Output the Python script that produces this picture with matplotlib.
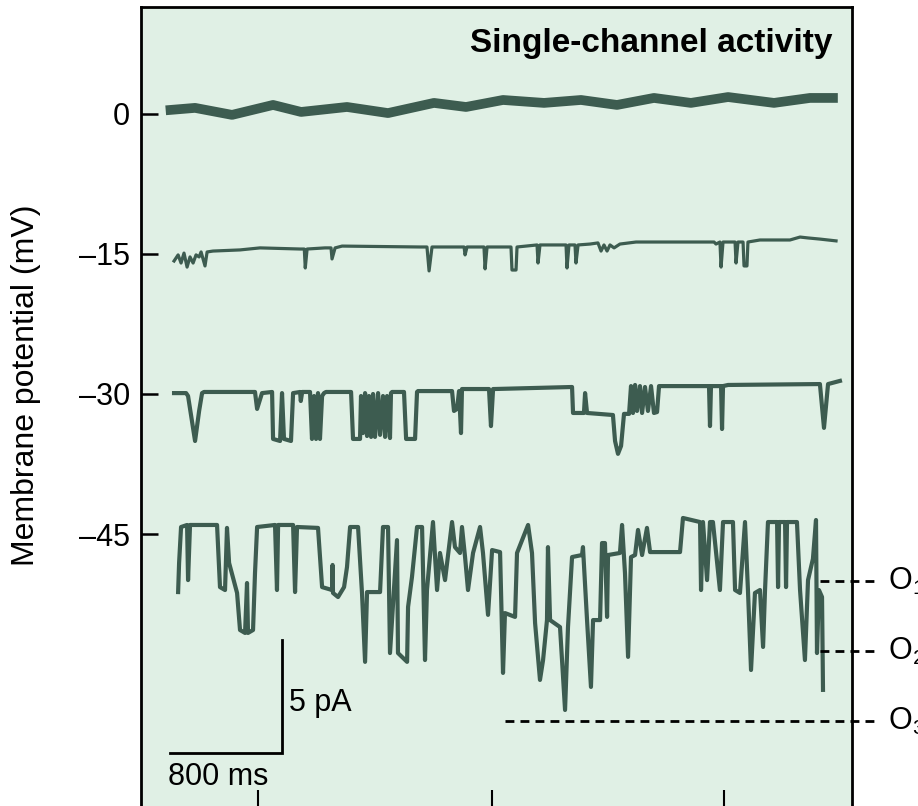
import numpy as np
import matplotlib.pyplot as plt

plt.rcParams['font.family'] = ['Liberation Sans', 'DejaVu Sans']
plt.rcParams['mathtext.fontset'] = 'custom'
plt.rcParams['mathtext.rm'] = 'Liberation Sans'
plt.rcParams['mathtext.it'] = 'Liberation Sans:italic'

# Holding potentials (mV) and their tick labels
holding = [0, -15, -30, -45]
tick_labels = ['0', '–15', '–30', '–45']

# Recordings: time (ms) and current (pA, inward = negative)
t_0mV = [-25, 150, 414, 707, 907, 1235, 1528, 1856, 2085, 2349, 2642, 2906,
         3163, 3427, 3691, 3956, 4284, 4541, 4705]
i_0mV = [0.18, 0.27, -0.04, 0.40, 0.09, 0.31, 0.04, 0.49, 0.31, 0.62, 0.49, 0.62,
         0.40, 0.71, 0.49, 0.75, 0.49, 0.71, 0.71]

t_15 = [0, 29, 50, 71, 93, 114, 136, 157, 179, 193, 221, 236, 278, 471, 614, 900,
        930, 937, 950, 1078, 1121, 1128, 1150, 1200, 1756, 1806, 1821, 1842, 2071,
        2078, 2092, 2213, 2221, 2235, 2406, 2413, 2442, 2449, 2592, 2599, 2613,
        2799, 2806, 2820, 2863, 2870, 2885, 2970, 3027, 3049, 3070, 3092, 3113,
        3142, 3184, 3299, 3856, 3870, 3898, 3906, 3920, 4006, 4013, 4027, 4063,
        4070, 4091, 4098, 4184, 4348, 4398, 4470, 4527, 4612, 4727]
i_15 = [-0.31, -0.04, -0.40, 0.04, -0.58, -0.13, -0.40, -0.04, -0.13, 0.09, -0.53,
        0.09, 0.13, 0.18, 0.27, 0.22, 0.22, -0.62, 0.22, 0.27, 0.27, -0.22, 0.27,
        0.35, 0.31, 0.31, -0.75, 0.31, 0.31, -0.04, 0.31, 0.31, -0.66, 0.31, 0.31,
        -0.71, -0.71, 0.31, 0.40, -0.40, 0.40, 0.40, -0.62, 0.40, 0.40, -0.40, 0.40,
        0.44, 0.49, 0.13, 0.40, 0.13, 0.40, 0.27, 0.44, 0.53, 0.53, 0.44, 0.53,
        -0.58, 0.53, 0.53, -0.40, 0.53, 0.53, -0.53, -0.53, 0.53, 0.62, 0.62, 0.62,
        0.75, 0.71, 0.66, 0.58]

t_30 = [0, 86, 100, 150, 179, 200, 214, 578, 593, 628, 700, 707, 757, 771, 785,
        835, 850, 900, 905, 915, 971, 985, 1000, 1014, 1028, 1042, 1057, 1071, 1085,
        1264, 1278, 1328, 1335, 1349, 1364, 1378, 1392, 1407, 1421, 1435, 1457,
        1471, 1492, 1507, 1521, 1542, 1549, 1557, 1642, 1657, 1721, 1735, 1742,
        1985, 1999, 2021, 2035, 2049, 2056, 2249, 2263, 2278, 2285, 2842, 2849,
        2927, 2935, 2949, 3134, 3149, 3170, 3192, 3213, 3249, 3263, 3277, 3292,
        3306, 3327, 3342, 3363, 3384, 3406, 3427, 3449, 3463, 3477, 3820, 3827,
        3834, 3906, 3913, 3920, 3956, 4612, 4641, 4670, 4755]
i_30 = [0.04, 0.04, -0.09, -2.08, -0.75, 0.04, 0.09, 0.09, -0.66, 0.04, 0.09, -1.99,
        -2.08, 0.04, -1.99, -2.08, 0.04, 0.09, -0.31, 0.09, 0.09, -1.99, -0.09,
        -1.99, 0.04, -1.99, -0.09, 0.04, 0.09, 0.09, -1.99, -1.99, -0.09, -1.73,
        0.04, -1.86, -0.09, -1.90, 0.00, -1.90, 0.04, -1.81, -0.09, -1.90, -0.09,
        -1.95, 0.04, 0.09, 0.09, -1.99, -1.99, 0.09, 0.13, 0.13, -0.75, -0.66,
        0.13, -1.73, 0.22, 0.22, -1.42, 0.22, 0.22, 0.31, -0.84, -0.84, 0.04,
        -0.84, -0.93, -2.08, -2.65, -2.30, -0.88, -0.88, 0.35, -0.84, 0.40, -0.75,
        0.35, -0.84, 0.31, -0.75, 0.35, -0.84, -0.80, 0.35, 0.35, 0.35, -1.42,
        0.35, 0.35, -1.55, 0.35, 0.40, 0.44, -1.50, 0.44, 0.58]

t_45 = [29, 36, 50, 93, 100, 114, 307, 328, 364, 378, 393, 450, 471, 507, 521, 528,
        564, 578, 593, 721, 735, 743, 850, 864, 878, 1028, 1057, 1128, 1132, 1135,
        1171, 1214, 1235, 1257, 1314, 1342, 1364, 1378, 1471, 1492, 1528, 1542,
        1592, 1599, 1664, 1671, 1699, 1735, 1771, 1792, 1806, 1849, 1878, 1899,
        1935, 1985, 2006, 2042, 2056, 2078, 2099, 2135, 2185, 2206, 2242, 2271,
        2328, 2349, 2363, 2435, 2449, 2528, 2556, 2578, 2613, 2635, 2663, 2670,
        2685, 2756, 2792, 2813, 2842, 2913, 2920, 2949, 2977, 2992, 3042, 3056,
        3077, 3092, 3099, 3184, 3199, 3220, 3242, 3263, 3292, 3313, 3342, 3377,
        3399, 3613, 3634, 3756, 3763, 3777, 3806, 3827, 3848, 3898, 3920, 3991,
        4006, 4041, 4077, 4098, 4120, 4148, 4184, 4206, 4220, 4241, 4306, 4313,
        4320, 4363, 4370, 4377, 4448, 4470, 4505, 4527, 4562, 4584, 4591, 4605,
        4627, 4634]
i_45 = [-2.57, -1.28, 0.31, 0.40, -2.04, 0.40, 0.40, -2.35, -2.48, 0.27, -1.28,
        -2.61, -4.25, -4.38, -2.17, -4.38, -4.25, -1.73, 0.31, 0.40, -2.48, 0.40,
        0.40, -2.57, 0.31, 0.27, -2.35, -2.48, -1.37, -2.61, -2.79, -2.35, -1.46,
        0.31, 0.31, -2.61, -5.66, -2.57, -2.57, 0.31, 0.31, -5.27, -0.27, -5.27,
        -5.66, -3.23, -1.90, 0.31, 0.31, -5.58, -2.48, 0.53, -2.48, -0.84, -2.04,
        0.53, -0.58, -0.84, 0.31, -1.02, -2.48, -0.84, 0.31, -0.84, -3.58, -0.71,
        -0.80, -6.15, -3.50, -3.67, -0.84, 0.40, -0.84, -3.94, -6.46, -5.58, -3.81,
        -0.58, -3.81, -4.12, -7.79, -4.12, -1.02, -0.93, -0.58, -3.81, -6.77, -3.81,
        -3.81, -0.40, -0.40, -3.67, -0.93, -0.84, 0.40, -1.73, -5.44, -1.02, -0.93,
        0.18, -0.93, 0.27, -0.80, -0.80, 0.71, 0.53, -2.48, 0.53, -2.04, 0.53, 0.53,
        -2.48, 0.53, 0.53, -2.48, -2.61, 0.53, -2.48, -6.02, -2.61, -2.48, -5.00,
        -2.48, 0.53, 0.53, -2.35, 0.53, 0.53, -2.35, 0.53, 0.53, -2.48, -5.58,
        -2.04, -1.10, 0.62, -5.27, -2.48, -2.79, -6.90]

# Open-state levels at -45 mV (pA) and where their guides start (ms)
open_labels = ['O$_1$', 'O$_2$', 'O$_3$']
open_levels = [-2.1, -5.2, -8.3]
open_start = [4612, 4612, 2363]

bottom_ticks = [600, 2271, 3927]

BG = '#e0f0e5'
TRACE = '#3d5c50'
PA_TO_MV = 2.42  # vertical scale: 1 pA of current drawn as 2.42 mV of axis

traces = [(t_0mV, i_0mV, 7.0), (t_15, i_15, 2.3), (t_30, i_30, 3.0), (t_45, i_45, 3.0)]

fig = plt.figure(figsize=(9.18, 8.06), dpi=100)
ax = fig.add_axes([0.1536, 0.0, 0.7745, 0.9913])
ax.set_facecolor(BG)

for v, (t, i, lw) in zip(holding, traces):
    ax.plot(t, v + PA_TO_MV * np.array(i), color=TRACE, lw=lw,
            solid_joinstyle='round')

# Open-level guides, running out past the frame
for lab, lev, t0 in zip(open_labels, open_levels, open_start):
    y = holding[3] + PA_TO_MV * lev
    ax.plot([t0, 5040], [y, y], color='black', lw=2.0, ls=(0, (3.2, 2.2)),
            clip_on=False)
    ax.text(5095, y, lab, fontsize=22, va='center', ha='left', clip_on=False)

# Scale bars: 800 ms and 5 pA
sb_t, sb_y = 770, -68.5
ax.plot([sb_t - 800, sb_t, sb_t], [sb_y, sb_y, sb_y + 5 * PA_TO_MV],
        color='black', lw=2.0, solid_joinstyle='miter')
ax.text(sb_t + 50, -64.0, '5 pA', fontsize=22, va='baseline', ha='left')
ax.text(sb_t - 813, -71.9, '800 ms', fontsize=22, va='baseline', ha='left')

ax.text(4705, 6.6, 'Single-channel activity', fontsize=24, fontweight='bold',
        ha='right', va='baseline')

ax.set_xlim(-236, 4841)
ax.set_ylim(-74.14, 11.46)
ax.set_yticks(holding)
ax.set_yticklabels(tick_labels, fontsize=22)
ax.set_xticks(bottom_ticks)
ax.set_xticklabels([])
ax.tick_params(axis='y', direction='in', length=12, width=1.8, pad=8)
ax.tick_params(axis='x', direction='in', length=11.5, width=1.5)
for side in ['left', 'right', 'top']:
    ax.spines[side].set_linewidth(2)
ax.spines['bottom'].set_visible(False)

fig.text(26 / 918, 1 - 385 / 806, 'Membrane potential (mV)', rotation=90,
         fontsize=23, ha='center', va='center')

fig.savefig('out.png', dpi=100)
